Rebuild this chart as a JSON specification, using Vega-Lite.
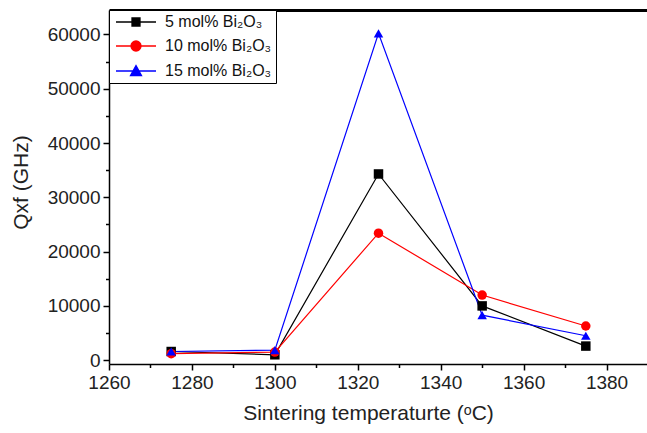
{
  "$schema": "https://vega.github.io/schema/vega-lite/v6.json",
  "width": 539,
  "height": 354,
  "autosize": "none",
  "padding": {"left": 109, "top": 10, "right": 0, "bottom": 69},
  "config": {
    "font": "Liberation Sans",
    "view": {"stroke": null},
    "axis": {
      "domainColor": "#000000",
      "tickColor": "#000000",
      "labelColor": "#222222",
      "titleColor": "#222222",
      "labelFont": "Liberation Sans",
      "titleFont": "Liberation Sans",
      "labelFontSize": 19,
      "titleFontSize": 21,
      "titleFontWeight": "normal",
      "grid": false,
      "domainWidth": 1.5,
      "tickWidth": 1.5
    }
  },
  "data": {
    "values": [
      {"temp": 1275, "qxf": 1600, "series": "5 mol% Bi₂O₃"},
      {"temp": 1300, "qxf": 1000, "series": "5 mol% Bi₂O₃"},
      {"temp": 1325, "qxf": 34300, "series": "5 mol% Bi₂O₃"},
      {"temp": 1350, "qxf": 10000, "series": "5 mol% Bi₂O₃"},
      {"temp": 1375, "qxf": 2600, "series": "5 mol% Bi₂O₃"},
      {"temp": 1275, "qxf": 1200, "series": "10 mol% Bi₂O₃"},
      {"temp": 1300, "qxf": 1500, "series": "10 mol% Bi₂O₃"},
      {"temp": 1325, "qxf": 23400, "series": "10 mol% Bi₂O₃"},
      {"temp": 1350, "qxf": 12000, "series": "10 mol% Bi₂O₃"},
      {"temp": 1375, "qxf": 6300, "series": "10 mol% Bi₂O₃"},
      {"temp": 1275, "qxf": 1600, "series": "15 mol% Bi₂O₃"},
      {"temp": 1300, "qxf": 1850, "series": "15 mol% Bi₂O₃"},
      {"temp": 1325, "qxf": 60200, "series": "15 mol% Bi₂O₃"},
      {"temp": 1350, "qxf": 8300, "series": "15 mol% Bi₂O₃"},
      {"temp": 1375, "qxf": 4500, "series": "15 mol% Bi₂O₃"}
    ]
  },
  "resolve": {
    "axis": {"x": "independent", "y": "independent"},
    "scale": {"shape": "independent"},
    "legend": {"color": "independent", "shape": "independent"}
  },
  "layer": [
    {
      "mark": {"type": "line", "strokeWidth": 1.2},
      "encoding": {
        "x": {
          "field": "temp", "type": "quantitative",
          "scale": {"domain": [1260, 1390], "nice": false, "zero": false},
          "axis": {
            "orient": "bottom",
            "values": [1260, 1280, 1300, 1320, 1340, 1360, 1380],
            "format": "d",
            "title": "Sintering temperaturte (ᵒC)",
            "tickSize": 6, "labelPadding": 3, "titlePadding": 10,
            "titleX": 259,
            "labelFlush": false
          }
        },
        "y": {
          "field": "qxf", "type": "quantitative",
          "scale": {"domain": [-700, 64500], "nice": false, "zero": false},
          "axis": {
            "orient": "left",
            "values": [0, 10000, 20000, 30000, 40000, 50000, 60000],
            "format": "d",
            "title": "Qxf (GHz)",
            "titleY": 172,
            "tickSize": 6, "labelPadding": 3, "titlePadding": 16
          }
        },
        "color": {
          "field": "series", "type": "nominal",
          "scale": {"domain": ["5 mol% Bi₂O₃", "10 mol% Bi₂O₃", "15 mol% Bi₂O₃"], "range": ["#000000", "#ff0000", "#0000ff"]},
          "legend": null
        }
      }
    },
    {
      "mark": {"type": "point", "filled": true, "size": 90, "opacity": 1},
      "encoding": {
        "x": {
          "field": "temp", "type": "quantitative",
          "axis": {
            "orient": "bottom",
            "values": [1270, 1290, 1310, 1330, 1350, 1370, 1390],
            "labels": false, "domain": false, "title": null, "tickSize": 3.5
          }
        },
        "y": {
          "field": "qxf", "type": "quantitative",
          "axis": {
            "orient": "left",
            "values": [5000, 15000, 25000, 35000, 45000, 55000],
            "labels": false, "domain": false, "title": null, "tickSize": 3.5
          }
        },
        "color": {"field": "series", "type": "nominal", "legend": null},
        "shape": {
          "field": "series", "type": "nominal",
          "scale": {"domain": ["5 mol% Bi₂O₃", "10 mol% Bi₂O₃", "15 mol% Bi₂O₃"], "range": ["square", "circle", "triangle-up"]},
          "legend": null
        }
      }
    },
    {
      "mark": {"type": "point", "filled": true, "size": 100, "opacity": 0},
      "encoding": {
        "x": {
          "field": "temp", "type": "quantitative",
          "axis": {"orient": "top", "labels": false, "ticks": false, "title": null, "domainWidth": 3}
        },
        "y": {"field": "qxf", "type": "quantitative", "axis": null},
        "color": {
          "field": "series", "type": "nominal",
          "legend": {
            "title": null, "orient": "top-left", "offset": 0, "padding": 4,
            "strokeColor": "#000000", "fillColor": "#ffffff",
            "symbolSize": 100, "symbolOpacity": 1, "symbolStrokeWidth": 1.3,
            "labelFontSize": 16, "labelColor": "#111111", "labelOffset": 36, "rowPadding": 8,
            "encode": {"symbols": {"update": {"stroke": {"scale": "color", "field": "value"}, "strokeWidth": {"value": 1.3}}}}
          }
        },
        "shape": {
          "field": "series", "type": "nominal",
          "scale": {
            "domain": ["5 mol% Bi₂O₃", "10 mol% Bi₂O₃", "15 mol% Bi₂O₃"],
            "range": [
              "M-1,0H7M2.2,-0.8H3.8V0.8H2.2Z",
              "M-1,0H7M2,0A1,1 0 1,0 4,0A1,1 0 1,0 2,0Z",
              "M-1,0H7M3,-1.1L4.1,0.9L1.9,0.9Z"
            ]
          },
          "legend": {
            "title": null, "orient": "top-left", "offset": 0, "padding": 4,
            "strokeColor": "#000000", "fillColor": "#ffffff",
            "symbolSize": 100, "symbolOpacity": 1, "symbolStrokeWidth": 1.3,
            "labelFontSize": 16, "labelColor": "#111111", "labelOffset": 36, "rowPadding": 8,
            "encode": {"symbols": {"update": {"stroke": {"scale": "color", "field": "value"}, "strokeWidth": {"value": 1.3}}}}
          }
        }
      }
    }
  ]
}
